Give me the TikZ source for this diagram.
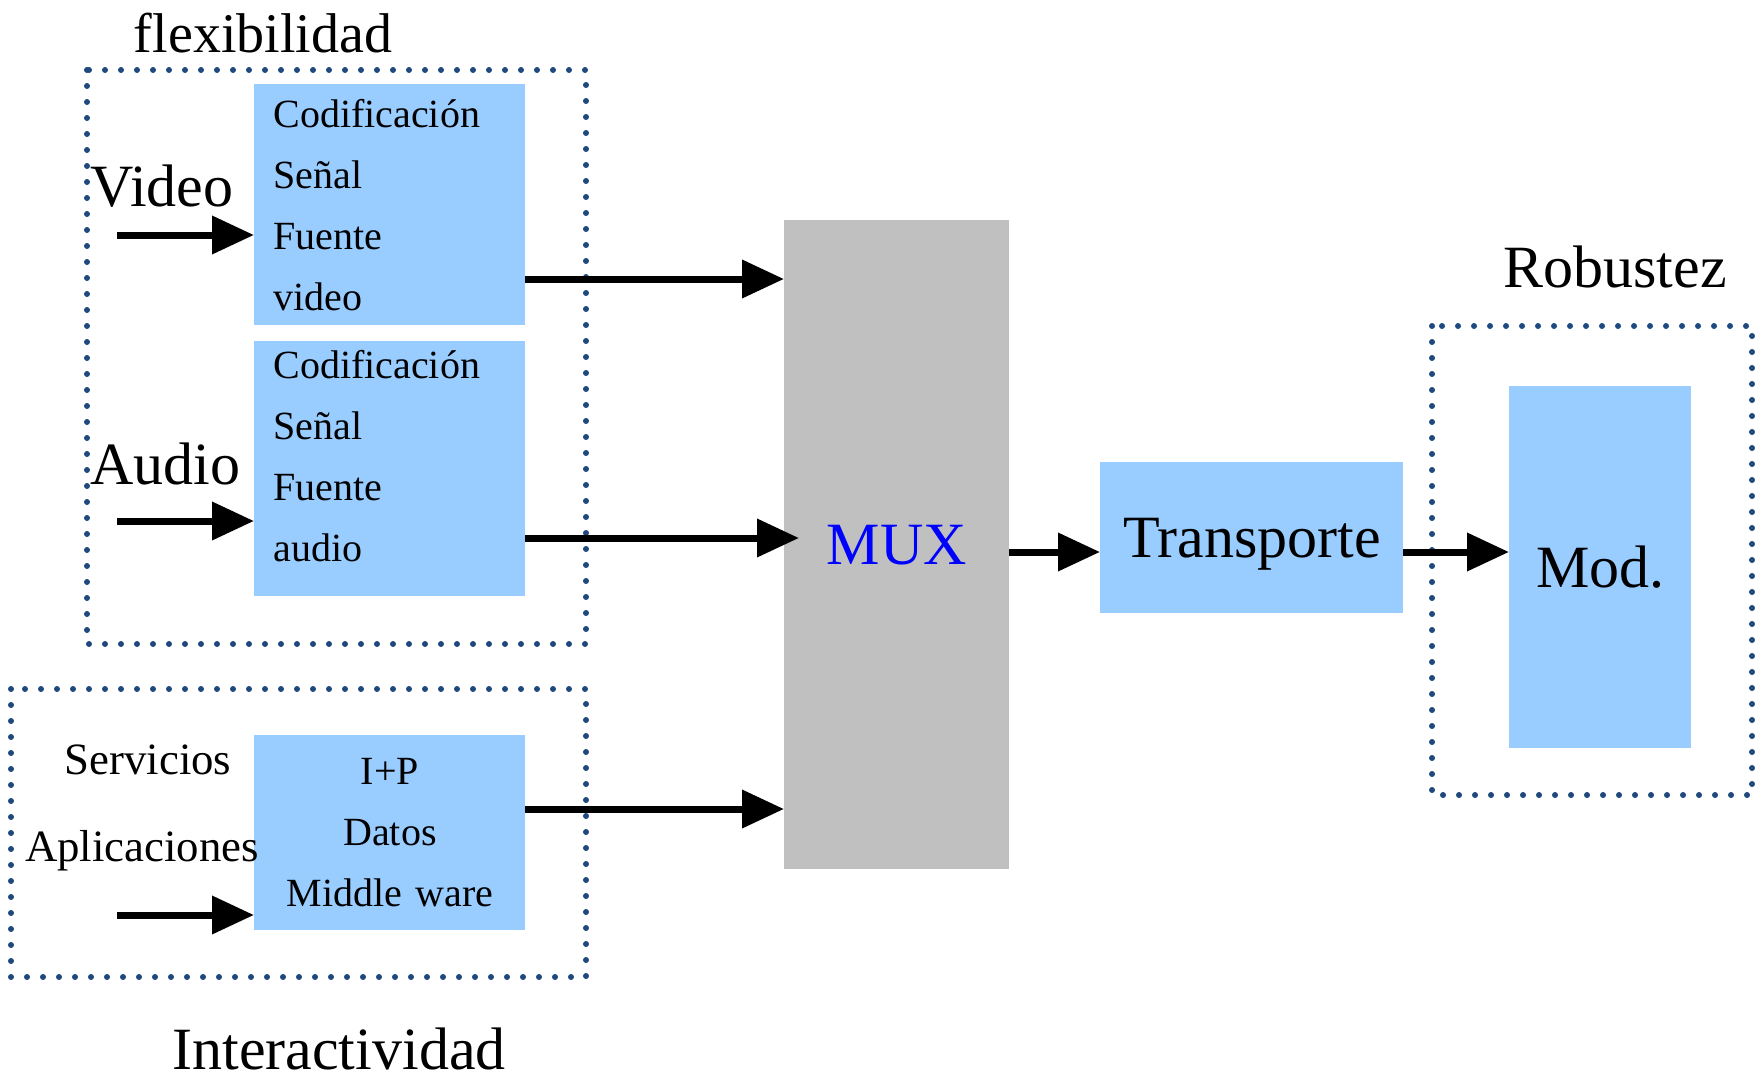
\documentclass[tikz,border=0pt]{standalone}
\usepackage{fontspec}
\setmainfont{Liberation Serif}
\usetikzlibrary{arrows.meta,positioning}
\definecolor{boxblue}{RGB}{153,204,255}
\definecolor{muxgray}{RGB}{192,192,192}
\definecolor{dotblue}{RGB}{31,73,125}
\definecolor{muxtext}{RGB}{0,0,255}

\begin{document}
\begin{tikzpicture}[x=0.5pt,y=-0.5pt,>={Triangle[length=21pt,width=18.5pt]},
    arr/.style={line width=3.5pt},
    dotbox/.style={draw=dotblue,line width=3pt,line cap=round,dash pattern=on 0pt off 8pt},
    codbox/.style={fill=boxblue,inner sep=0pt,anchor=north west,minimum width=135.5pt,
      text width=116.5pt,align=left,font=\fontsize{20}{30.5}\selectfont},
    big/.style={font=\fontsize{30}{36}\selectfont,inner sep=0pt},
    small/.style={font=\fontsize{22.4}{27}\selectfont,inner sep=0pt,anchor=base}]
  \useasboundingbox (0,0) rectangle (1764,1081);

  % dotted groups
  \draw[dotbox] (87,70) rectangle (586,644);
  \draw[dotbox] (11,689) rectangle (586,977);
  \draw[dotbox] (1432,326) rectangle (1752,795);

  % blocks
  \node[codbox,minimum height=120.5pt] (vid) at (254,84) {Codificación\\Señal\\Fuente\\video};
  \node[codbox,minimum height=127.5pt,text depth=104.5pt] (aud) at (254,341) {Codificación\\Señal\\Fuente\\audio};
  \node[codbox,minimum height=97.5pt,align=center] (ipd) at (254,735) {I+P\\Datos\\Middle ware};
  \node[fill=muxgray,anchor=north west,minimum width=112.5pt,minimum height=324.5pt,
    big,text=muxtext] (mux) at (784,220) {MUX};
  \node[fill=boxblue,anchor=north west,minimum width=151.5pt,minimum height=75.5pt,big,
    text depth=0pt] (trans) at (1100,462) {Transporte};
  \node[fill=boxblue,anchor=north west,minimum width=91pt,minimum height=181pt,big] (mod) at (1509,386) {Mod.};

  % labels
  \node[big,anchor=base,font=\fontsize{28}{34}\selectfont] (flex) at (263,53) {flexibilidad};
  \node[big,anchor=base west] (video) at (90,206) {Video};
  \node[big,anchor=base west] (audio) at (90,484) {Audio};
  \node[small] (serv) at (148,774) {Servicios};
  \node[small] (apli) at (142,861) {Aplicaciones};
  \node[big,anchor=base] (inter) at (339,1069) {Interactividad};
  \node[big,anchor=base] (robu) at (1615,287) {Robustez};

  \coordinate (vin) at (117,235);
  \coordinate (ain) at (117,521);
  \coordinate (iin) at (117,915);
  \coordinate (vout) at (525,279);
  \coordinate (aout) at (525,538);
  \coordinate (iout) at (525,809);
  \coordinate (mout) at (1009,552);
  \coordinate (tout) at (1403,552);

  \path[->,arr]
  (vin) edge (vin -| vid.west)
  (ain) edge (ain -| aud.west)
  (iin) edge (iin -| ipd.west)

  (vout) edge (vout -| mux.west)
  (aout) edge[shorten >=-7.5pt] (aout -| mux.west)
  (iout) edge (iout -| mux.west)

  (mout) edge (mout -| trans.west)
  (tout) edge (tout -| mod.west)
  ;
\end{tikzpicture}
\end{document}
